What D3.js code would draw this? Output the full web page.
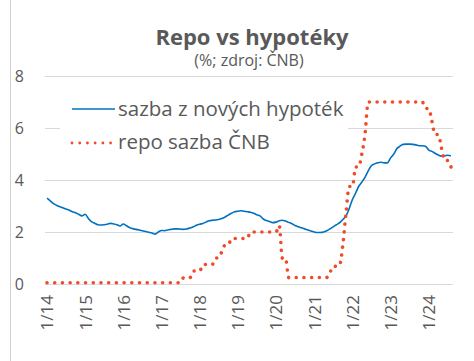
<!DOCTYPE html>
<html>
<head>
<meta charset="utf-8">
<script src="https://cdn.jsdelivr.net/npm/d3@7"></script>
<style>
  body { margin: 0; background: #fff; }
  text { font-family: "Open Sans", sans-serif; fill: #595959; }
</style>
</head>
<body>
<div id="viz-container"></div>
<script>
// monthly values, Jan 2014 .. Aug 2024
const startYear = 2014;
const yearTicks = ['1/14', '1/15', '1/16', '1/17', '1/18', '1/19', '1/20', '1/21', '1/22', '1/23', '1/24'];
const yTicks = [0, 2, 4, 6, 8];

// sazba z novych hypotek
const mortgage = [
  3.30, 3.20, 3.10, 3.03, 2.98, 2.93, 2.88, 2.84, 2.78, 2.74, 2.68, 2.62, // 2014
  2.68, 2.52, 2.40, 2.34, 2.28, 2.27, 2.28, 2.30, 2.33, 2.31, 2.28, 2.23, // 2015
  2.31, 2.24, 2.17, 2.13, 2.10, 2.08, 2.05, 2.02, 1.99, 1.96, 1.92, 2.00, // 2016
  2.06, 2.05, 2.08, 2.10, 2.12, 2.12, 2.11, 2.10, 2.12, 2.15, 2.20, 2.26, // 2017
  2.30, 2.33, 2.38, 2.43, 2.45, 2.46, 2.48, 2.52, 2.58, 2.65, 2.72, 2.78, // 2018
  2.80, 2.82, 2.80, 2.78, 2.76, 2.72, 2.66, 2.62, 2.50, 2.44, 2.40, 2.36, // 2019
  2.38, 2.43, 2.45, 2.42, 2.37, 2.32, 2.25, 2.20, 2.16, 2.12, 2.08, 2.04, // 2020
  2.00, 1.98, 1.98, 2.00, 2.05, 2.12, 2.20, 2.28, 2.36, 2.48, 2.62, 2.90, // 2021
  3.25, 3.50, 3.75, 3.92, 4.10, 4.35, 4.55, 4.62, 4.66, 4.68, 4.66, 4.66, // 2022
  4.85, 5.00, 5.20, 5.30, 5.37, 5.38, 5.38, 5.37, 5.35, 5.32, 5.32, 5.30, // 2023
  5.15, 5.10, 5.03, 4.96, 4.92, 4.93, 4.95, 4.93                          // 2024
];

// repo sazba CNB
const repo = [
  0.05, 0.05, 0.05, 0.05, 0.05, 0.05, 0.05, 0.05, 0.05, 0.05, 0.05, 0.05,
  0.05, 0.05, 0.05, 0.05, 0.05, 0.05, 0.05, 0.05, 0.05, 0.05, 0.05, 0.05,
  0.05, 0.05, 0.05, 0.05, 0.05, 0.05, 0.05, 0.05, 0.05, 0.05, 0.05, 0.05,
  0.05, 0.05, 0.05, 0.05, 0.05, 0.05, 0.05, 0.25, 0.25, 0.25, 0.50, 0.50,
  0.50, 0.75, 0.75, 0.75, 0.75, 1.00, 1.00, 1.25, 1.50, 1.50, 1.75, 1.75,
  1.75, 1.75, 1.75, 1.75, 2.00, 2.00, 2.00, 2.00, 2.00, 2.00, 2.00, 2.00,
  2.00, 2.25, 1.00, 1.00, 0.25, 0.25, 0.25, 0.25, 0.25, 0.25, 0.25, 0.25,
  0.25, 0.25, 0.25, 0.25, 0.25, 0.50, 0.50, 0.75, 0.75, 1.50, 2.75, 3.75,
  3.75, 4.50, 4.50, 5.00, 5.75, 7.00, 7.00, 7.00, 7.00, 7.00, 7.00, 7.00,
  7.00, 7.00, 7.00, 7.00, 7.00, 7.00, 7.00, 7.00, 7.00, 7.00, 7.00, 6.75,
  6.75, 6.25, 5.75, 5.75, 5.25, 4.75, 4.75, 4.50
];

const seriesNames = ['sazba z nových hypoték', 'repo sazba ČNB'];
const blue = '#0070C0';
const red = '#EF4B28';

const monthDate = (i) => new Date(startYear, i, 1);

const W = 474, H = 361;
const svg = d3.select('#viz-container')
  .append('svg')
    .attr('width', W)
    .attr('height', H);

const x = d3.scaleTime()
  .domain([monthDate(0), monthDate(mortgage.length - 1)])
  .range([47, 451]);
const y = d3.scaleLinear().domain([0, 8]).range([284, 76]);

// left border line
svg.append('line')
  .attr('x1', 10.5).attr('x2', 10.5)
  .attr('y1', 0).attr('y2', H)
  .attr('stroke', '#d0d0d0');

// grid
svg.append('g').selectAll('line').data(yTicks).enter()
  .append('line')
    .attr('x1', 45).attr('x2', 453)
    .attr('y1', d => Math.round(y(d)) + 0.5)
    .attr('y2', d => Math.round(y(d)) + 0.5)
    .attr('stroke', '#d9d9d9')
    .attr('stroke-width', 1);

// y labels
const yAxis = svg.append('g')
  .attr('transform', 'translate(24,0)')
  .call(d3.axisLeft(y).tickValues(yTicks).tickSize(0).tickPadding(0));
yAxis.select('.domain').remove();
yAxis.selectAll('text')
  .style('font-size', '16px')
  .attr('fill', '#595959');

// x labels
const xAxis = svg.append('g')
  .attr('transform', 'translate(0,284)')
  .call(d3.axisBottom(x)
    .tickValues(yearTicks.map((t, i) => new Date(startYear + i, 0, 1)))
    .tickFormat((d, i) => yearTicks[i])
    .tickSize(0));
xAxis.select('.domain').remove();
xAxis.selectAll('text')
  .style('font-size', '17px')
  .attr('fill', '#595959')
  .attr('transform', 'rotate(-90)')
  .attr('text-anchor', 'end')
  .attr('x', -11)
  .attr('y', 0)
  .attr('dy', '0.35em');

// legend background hides gridline
svg.append('rect')
  .attr('x', 60).attr('y', 92)
  .attr('width', 288).attr('height', 70)
  .attr('fill', '#fff');

const line = d3.line()
  .x((d, i) => x(monthDate(i)))
  .y(d => y(d))
  .curve(d3.curveMonotoneX);

svg.append('path')
  .datum(mortgage)
  .attr('fill', 'none')
  .attr('stroke', blue)
  .attr('stroke-width', 1.6)
  .attr('d', line);

svg.append('path')
  .datum(repo)
  .attr('fill', 'none')
  .attr('stroke', red)
  .attr('stroke-width', 3.6)
  .attr('stroke-linecap', 'round')
  .attr('stroke-dasharray', '0.01 7.7')
  .attr('d', line);

// legend
const legend = svg.append('g');
legend.append('line')
  .attr('x1', 72).attr('x2', 115)
  .attr('y1', 109).attr('y2', 109)
  .attr('stroke', blue).attr('stroke-width', 1.6);
legend.append('line')
  .attr('x1', 72).attr('x2', 114)
  .attr('y1', 143).attr('y2', 143)
  .attr('stroke', red).attr('stroke-width', 2.8)
  .attr('stroke-linecap', 'round')
  .attr('stroke-dasharray', '0.01 7.7');
legend.selectAll('text').data(seriesNames).enter()
  .append('text')
    .attr('x', 118)
    .attr('y', (d, i) => 116 + i * 33)
    .style('font-size', '20.5px')
    .text(d => d);

// titles
svg.append('text')
  .attr('x', 252).attr('y', 45)
  .attr('text-anchor', 'middle')
  .style('font-size', '22px')
  .style('font-weight', 'bold')
  .text('Repo vs hypotéky');
svg.append('text')
  .attr('x', 249).attr('y', 66)
  .attr('text-anchor', 'middle')
  .style('font-size', '16px')
  .text('(%; zdroj: ČNB)');
</script>
</body>
</html>
